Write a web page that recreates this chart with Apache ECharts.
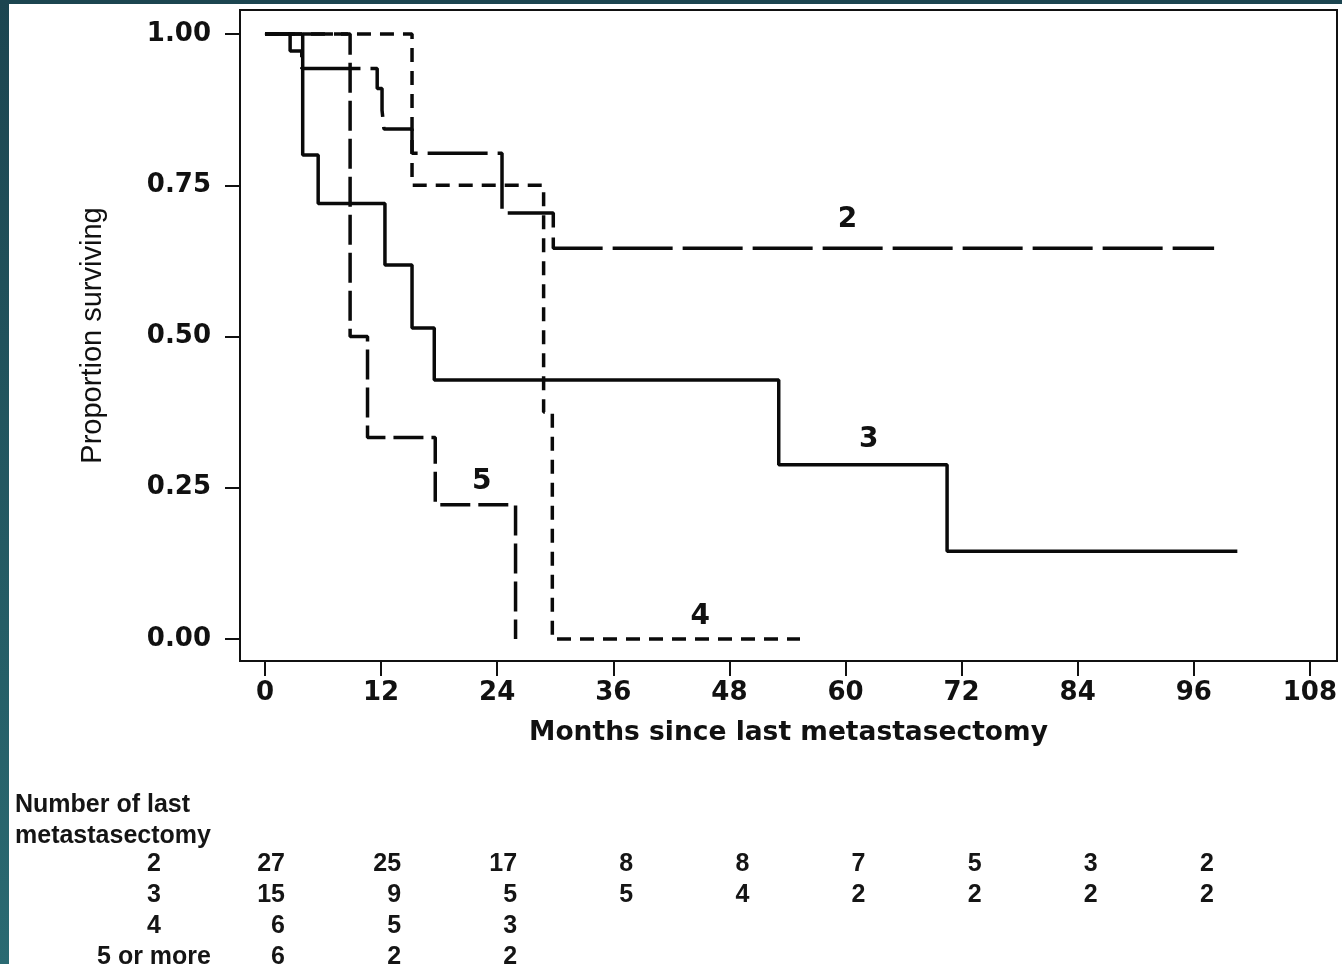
<!DOCTYPE html>
<html>
<head>
<meta charset="utf-8">
<script src="https://cdn.jsdelivr.net/npm/echarts@6/dist/echarts.min.js"></script>
<style>
  html, body { margin: 0; padding: 0; }
  body {
    width: 1342px; height: 964px; overflow: hidden; position: relative;
    background: linear-gradient(to bottom, #1c4550, #2a6a72);
  }
  #paper { position: absolute; left: 9px; top: 4px; right: 0; bottom: 0; background: #fff; }
  #chart { position: absolute; left: 0; top: 0; width: 1342px; height: 964px; }
</style>
</head>
<body>
<div id="paper"></div>
<div id="chart"></div>
<script>
// Kaplan-Meier steps: [month, proportion surviving]
const curve2 = [[0, 1], [2.6, 0.972], [3.8, 0.943], [11.6, 0.91], [12.1, 0.874], [12.3, 0.843], [15.2, 0.803], [24.5, 0.704], [29.8, 0.646], [98.1, 0.646]];
const curve3 = [[0, 1], [3.9, 0.80], [5.5, 0.72], [12.4, 0.618], [15.2, 0.514], [17.5, 0.428], [53.1, 0.288], [70.5, 0.145], [100.5, 0.145]];
const curve4 = [[0, 1], [15.2, 0.75], [28.8, 0.375], [29.7, 0], [55.3, 0]];
const curve5 = [[0, 1], [8.8, 0.5], [10.6, 0.333], [17.6, 0.222], [25.9, 0]];

// curve labels: [text, month, proportion]
const curveLabels = [['2', 60.2, 0.693], ['3', 62.4, 0.329], ['5', 22.4, 0.26], ['4', 45.0, 0.036]];

const xTicks = [0, 12, 24, 36, 48, 60, 72, 84, 96, 108];
const yTicks = [0, 0.25, 0.5, 0.75, 1];

// numbers at risk
const riskTimes = [0, 12, 24, 36, 48, 60, 72, 84, 96];
const riskGroups = ['2', '3', '4', '5 or more'];
const risk2 = [27, 25, 17, 8, 8, 7, 5, 3, 2];
const risk3 = [15, 9, 5, 5, 4, 2, 2, 2, 2];
const risk4 = [6, 5, 3];
const risk5 = [6, 2, 2];

const chart = echarts.init(document.getElementById('chart'), null, { renderer: 'canvas' });

const tickFont = { fontFamily: 'DejaVu Sans', fontWeight: 'bold', fontSize: 26, color: '#111' };
const tableFont = { fontFamily: 'Liberation Sans', fontWeight: 'bold', fontSize: 25, color: '#151515' };

const makeCurve = (data, dash) => ({
  type: 'line',
  step: 'end',
  data: data,
  symbol: 'none',
  silent: true,
  lineStyle: { color: '#0a0a0a', width: 3.5, type: dash, cap: 'butt' },
  z: 3
});

const riskRows = [risk2, risk3, risk4, risk5];
const riskData = [];
riskRows.forEach((row, r) => {
  row.forEach((n, i) => riskData.push([riskTimes[i], riskGroups[r], n]));
});

const option = {
  animation: false,
  backgroundColor: 'transparent',
  grid: [
    { left: 240, top: 10, right: 5, bottom: 303, show: true, borderColor: '#111', borderWidth: 2, outerBoundsMode: 'none' },
    { left: 240, top: 849, right: 5, height: 124, outerBoundsMode: 'none' }
  ],
  xAxis: [
    {
      type: 'value', gridIndex: 0, min: -2.58, max: 110.8,
      name: 'Months since last metastasectomy', nameLocation: 'middle', nameGap: 59,
      nameTextStyle: { fontFamily: 'DejaVu Sans', fontWeight: 'bold', fontSize: 26.5, color: '#111' },
      axisLine: { show: true, onZero: false, lineStyle: { color: '#111', width: 2 } },
      axisTick: { show: true, length: 15, customValues: xTicks, lineStyle: { color: '#111', width: 2 } },
      axisLabel: Object.assign({ margin: 19, customValues: xTicks }, tickFont),
      splitLine: { show: false }
    },
    { type: 'value', gridIndex: 1, min: -2.58, max: 110.8, show: false }
  ],
  yAxis: [
    {
      type: 'value', gridIndex: 0, min: -0.0364, max: 1.0397,
      name: 'Proportion surviving', nameLocation: 'middle', nameGap: 133,
      nameTextStyle: { fontFamily: 'Liberation Sans', fontSize: 29, color: '#111' },
      axisLine: { show: true, onZero: false, lineStyle: { color: '#111', width: 2 } },
      axisTick: { show: true, length: 15, customValues: yTicks, lineStyle: { color: '#111', width: 2 } },
      axisLabel: Object.assign({ margin: 29, padding: [6, 0, 0, 0], customValues: yTicks, formatter: (v) => v.toFixed(2) }, tickFont),
      splitLine: { show: false }
    },
    {
      type: 'category', gridIndex: 1, data: riskGroups, inverse: true,
      axisLine: { show: false }, axisTick: { show: false }, splitLine: { show: false },
      axisLabel: Object.assign({ margin: 86, align: 'center', interval: 0 }, tableFont)
    }
  ],
  graphic: [
    {
      type: 'text', left: 15, top: 790,
      style: {
        text: 'Number of last\nmetastasectomy', lineHeight: 31,
        fontFamily: 'Liberation Sans', fontWeight: 'bold', fontSize: 25, fill: '#151515'
      }
    }
  ],
  series: [
    makeCurve(curve2, [60, 10]),
    makeCurve(curve3, 'solid'),
    makeCurve(curve4, [14, 9]),
    makeCurve(curve5, [30, 8]),
    {
      type: 'scatter',
      data: curveLabels.map(d => [d[1], d[2], d[0]]),
      symbolSize: 0,
      silent: true,
      itemStyle: { opacity: 1 },
      label: {
        show: true, position: 'inside', formatter: (p) => p.value[2],
        fontFamily: 'DejaVu Sans', fontWeight: 'bold', fontSize: 28, color: '#111'
      }
    },
    {
      type: 'scatter', xAxisIndex: 1, yAxisIndex: 1,
      data: riskData,
      symbolSize: 0,
      silent: true,
      itemStyle: { opacity: 1 },
      label: Object.assign({
        show: true, position: 'inside', align: 'right', offset: [20, 0],
        formatter: (p) => p.value[2]
      }, tableFont)
    }
  ]
};

chart.setOption(option);
</script>
</body>
</html>
